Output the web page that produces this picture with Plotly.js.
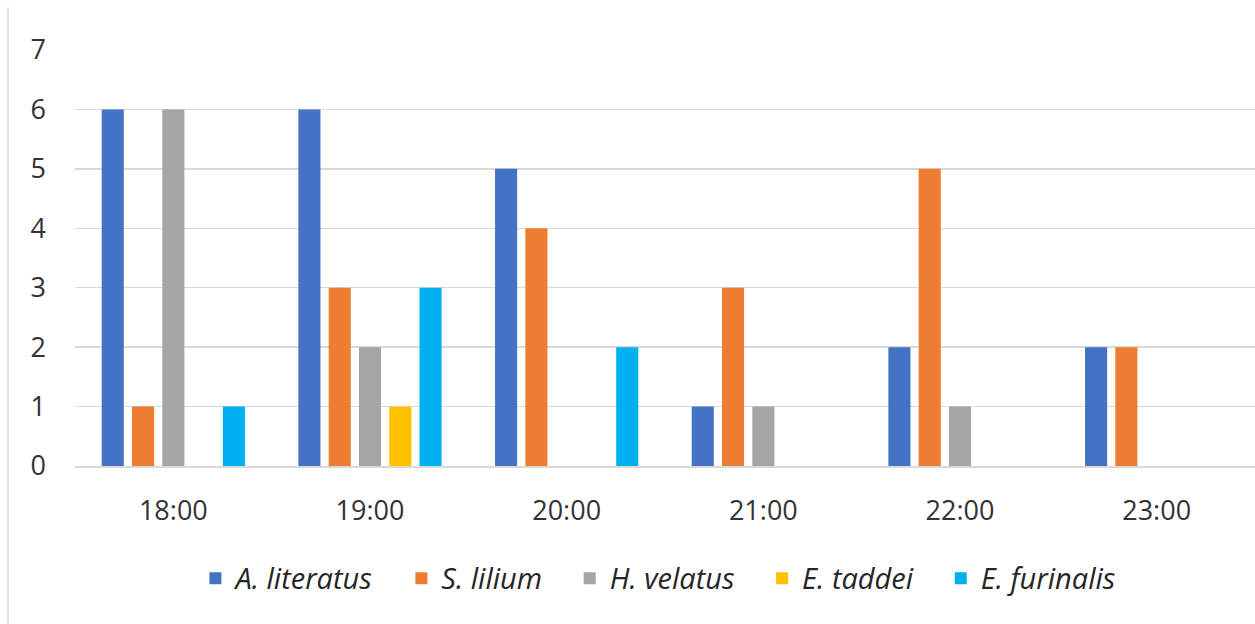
<!DOCTYPE html>
<html>
<head>
<meta charset="utf-8">
<script src="https://cdn.plot.ly/plotly-3.0.1.min.js"></script>
<style>
  html, body { margin: 0; padding: 0; background: #ffffff; }
  #chart { width: 1255px; height: 624px; }
</style>
</head>
<body>
<div id="chart"></div>
<script>
// Observation hours
const hours = ['18:00', '19:00', '20:00', '21:00', '22:00', '23:00'];

// Counts per species
const aLiteratus = [6, 6, 5, 1, 2, 2];
const sLilium    = [1, 3, 4, 3, 5, 2];
const hVelatus   = [6, 2, 0, 1, 1, 0];
const eTaddei    = [0, 1, 0, 0, 0, 0];
const eFurinalis = [1, 3, 2, 0, 0, 0];

const seriesNames  = ['A. literatus', 'S. lilium', 'H. velatus', 'E. taddei', 'E. furinalis'];
const seriesValues = [aLiteratus, sLilium, hVelatus, eTaddei, eFurinalis];
const seriesColors = ['#4472C4', '#ED7D31', '#A5A5A5', '#FFC000', '#00B0F0'];

// extra breathing room between legend entries (not after the last one)
const legendPad = '&nbsp;&nbsp;&nbsp;';

const traces = seriesNames.map((name, i) => ({
  type: 'bar',
  name: '<i>' + name + '</i>' + (i < seriesNames.length - 1 ? legendPad : ''),
  x: hours,
  y: seriesValues[i],
  marker: { color: seriesColors[i], line: { width: 0 } },
  hoverinfo: 'x+y+name'
}));

const textFont = { family: 'Open Sans, Noto Sans, sans-serif', size: 27, color: '#333333' };

const layout = {
  width: 1255,
  height: 624,
  margin: { l: 75, r: 0, t: 50, b: 158 },
  paper_bgcolor: '#ffffff',
  plot_bgcolor: '#ffffff',
  barmode: 'group',
  bargap: 0.23,
  bargroupgap: 0.27,
  showlegend: true,
  legend: {
    orientation: 'h',
    x: 0.494,
    xanchor: 'center',
    xref: 'paper',
    y: -0.27,
    yanchor: 'middle',
    font: { family: 'Open Sans, Noto Sans, sans-serif', size: 29, color: '#262626' },
    itemwidth: 30,
    traceorder: 'normal'
  },
  xaxis: {
    type: 'category',
    showgrid: false,
    showline: true,
    linecolor: '#d9d9d9',
    linewidth: 1.5,
    ticks: '',
    tickfont: textFont,
    ticklabelstandoff: 20,
    fixedrange: true
  },
  yaxis: {
    range: [0, 7],
    dtick: 1,
    showgrid: true,
    gridcolor: '#d9d9d9',
    gridwidth: 1.5,
    zeroline: false,
    showline: false,
    ticks: '',
    tickfont: textFont,
    ticklabelstandoff: 28,
    fixedrange: true
  },
  shapes: [{
    type: 'line',
    xref: 'paper', yref: 'paper',
    x0: -0.0568, x1: -0.0568,
    y0: -0.38, y1: 1.103,
    line: { color: '#d9d9d9', width: 1.5 }
  }]
};

Plotly.newPlot('chart', traces, layout, { displayModeBar: false, staticPlot: true });
</script>
</body>
</html>
